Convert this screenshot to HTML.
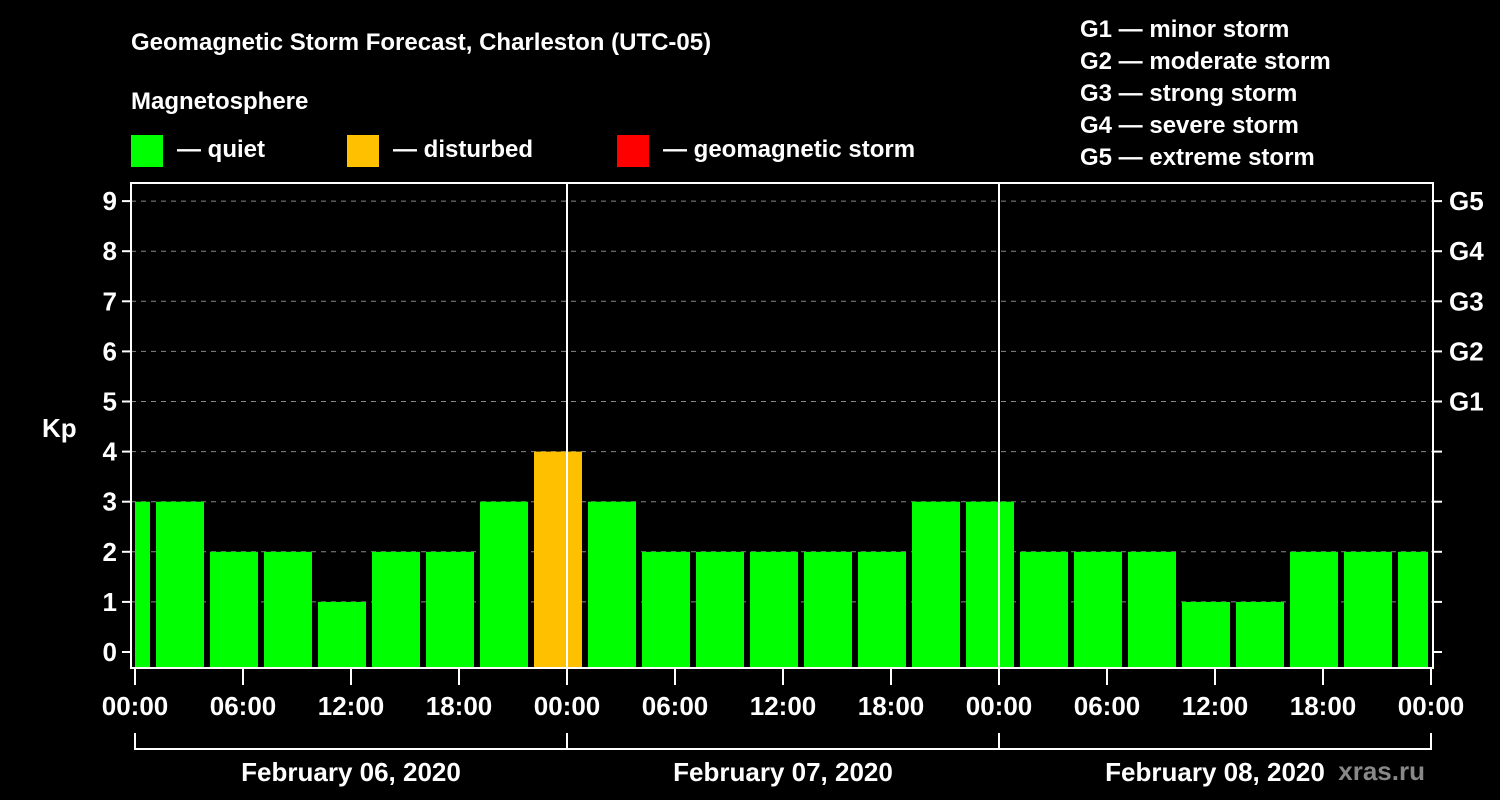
<!DOCTYPE html>
<html><head><meta charset="utf-8"><style>
html,body{margin:0;padding:0;background:#000;}
svg{display:block;font-family:"Liberation Sans",sans-serif;font-weight:bold;}
</style></head><body>
<svg id="chart" width="1500" height="800" viewBox="0 0 1500 800">
<rect width="1500" height="800" fill="#000"/>
<text x="131" y="50" fill="#fff" font-size="24">Geomagnetic Storm Forecast, Charleston (UTC-05)</text>
<text x="131" y="109" fill="#fff" font-size="24">Magnetosphere</text>
<g><rect x="131" y="135" width="32" height="32" fill="#00ff00"/><text x="177" y="157" fill="#fff" font-size="24">— quiet</text></g>
<g><rect x="347" y="135" width="32" height="32" fill="#ffc000"/><text x="393" y="157" fill="#fff" font-size="24">— disturbed</text></g>
<g><rect x="617" y="135" width="32" height="32" fill="#ff0000"/><text x="663" y="157" fill="#fff" font-size="24">— geomagnetic storm</text></g>
<g fill="#fff" font-size="24">
<text x="1080" y="37">G1 — minor storm</text>
<text x="1080" y="69">G2 — moderate storm</text>
<text x="1080" y="101">G3 — strong storm</text>
<text x="1080" y="133">G4 — severe storm</text>
<text x="1080" y="165">G5 — extreme storm</text>
</g>
<text x="42" y="437" fill="#fff" font-size="26">Kp</text>
<text x="1425" y="780" fill="#888" font-size="26" text-anchor="end">xras.ru</text>
<g id="grid"></g><g id="bars"></g><g id="axes"></g>
</svg>
<script>
const kpValues=[3,3,2,2,1,2,2,3,4,3,2,2,2,2,2,3,3,2,2,2,1,1,2,2,2];
const kpStartHours=[-2,1,4,7,10,13,16,19,22,25,28,31,34,37,40,43,46,49,52,55,58,61,64,67,70];
const yTicks=[0,1,2,3,4,5,6,7,8,9];
const gLabels=["","","","","","G1","G2","G3","G4","G5"];
const xTickLabels=["00:00","06:00","12:00","18:00","00:00","06:00","12:00","18:00","00:00","06:00","12:00","18:00","00:00"];
const dayLabels=["February 06, 2020","February 07, 2020","February 08, 2020"];
const NS="http://www.w3.org/2000/svg";
const L=131,R=1433,T=183,B=668;
const x=h=>135+h*18;
const y=v=>652-v*50.1;
function mk(tag,attrs,parent){const e=document.createElementNS(NS,tag);for(const k in attrs)e.setAttribute(k,attrs[k]);parent.appendChild(e);return e;}
const grid=document.getElementById('grid'),bars=document.getElementById('bars'),axes=document.getElementById('axes');
yTicks.forEach((v,i)=>{
 if(v>0){const g=mk('line',{x1:L,x2:R,y1:y(v),y2:y(v),stroke:'#888','stroke-dasharray':'5,5','stroke-width':1},grid);
 
 }
 const t=mk('line',{x1:L-9,x2:L,y1:y(v),y2:y(v),stroke:'#fff','stroke-width':2},axes);
 
 
 const t2=mk('line',{x1:R,x2:R+9,y1:y(v),y2:y(v),stroke:'#fff','stroke-width':2},axes);
 
 
 const lb=mk('text',{x:L-14,y:y(v)+9,fill:'#fff','font-size':26,'text-anchor':'end'},axes);lb.textContent=v;
 
 
 if(gLabels[i]){const gl=mk('text',{x:R+16,y:y(v)+9,fill:'#fff','font-size':26},axes);gl.textContent=gLabels[i];
 
 }
});
kpValues.forEach((v,i)=>{
 let x0=Math.max(x(kpStartHours[i])+3,L+4),x1=Math.min(x(kpStartHours[i]+3)-3,R-5);
 const col=v>=5?'#ff0000':(v>=4?'#ffc000':'#00ff00');
 const r=mk('rect',{x:x0,y:y(v),width:x1-x0,height:B-y(v),fill:col},bars);
 
 
});
[24,48].forEach(h=>{const l=mk('line',{x1:x(h),x2:x(h),y1:T,y2:B,stroke:'#fff','stroke-width':2},axes);
 
 });
const fr=mk('rect',{x:L,y:T,width:R-L,height:B-T,fill:'none',stroke:'#fff','stroke-width':2},axes);


xTickLabels.forEach((s,i)=>{const h=i*6;
 const tk=mk('line',{x1:x(h),x2:x(h),y1:B,y2:B+17,stroke:'#fff','stroke-width':2},axes);
 
 
 const t=mk('text',{x:x(h),y:715,fill:'#fff','font-size':26,'text-anchor':'middle'},axes);t.textContent=s;
 
 });
const br=mk('line',{x1:x(0),x2:x(72),y1:749,y2:749,stroke:'#fff','stroke-width':2},axes);


[0,24,48,72].forEach(h=>{const b=mk('line',{x1:x(h),x2:x(h),y1:733,y2:750,stroke:'#fff','stroke-width':2},axes);
 
 });
dayLabels.forEach((s,i)=>{const t=mk('text',{x:x(i*24+12),y:781,fill:'#fff','font-size':26,'text-anchor':'middle'},axes);t.textContent=s;
 
 });
</script>
</body></html>
